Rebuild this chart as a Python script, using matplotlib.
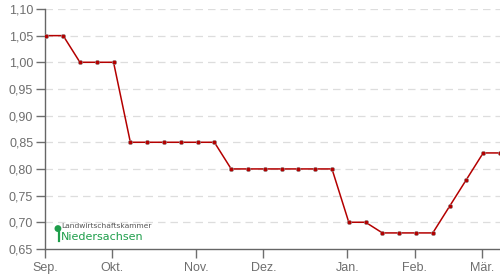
#!/usr/bin/env python3
import matplotlib
matplotlib.use("Agg")
import matplotlib.pyplot as plt
from matplotlib.lines import Line2D
from matplotlib.ticker import FuncFormatter

# weekly prices (EUR), Sep. to Mär.
prices = [1.05, 1.05, 1.00, 1.00, 1.00,
          0.85, 0.85, 0.85, 0.85, 0.85, 0.85,
          0.80, 0.80, 0.80, 0.80, 0.80, 0.80, 0.80,
          0.70, 0.70, 0.68, 0.68, 0.68, 0.68,
          0.73, 0.78, 0.83, 0.83]
month_labels = ["Sep.", "Okt.", "Nov.", "Dez.", "Jan.", "Feb.", "Mär."]
month_week = [0, 4, 9, 13, 18, 22, 26]
y_ticks = [0.65, 0.70, 0.75, 0.80, 0.85, 0.90, 0.95, 1.00, 1.05, 1.10]

plt.rcParams["font.family"] = ["Liberation Sans", "DejaVu Sans"]

fig = plt.figure(figsize=(5, 2.8), dpi=100)
ax = fig.add_axes([0.09, 0.111, 0.91, 0.857])

x = list(range(len(prices)))
ax.plot(x, prices, color="#b40000", linewidth=1.1, zorder=3)
ax.plot(x, prices, linestyle="none", marker="o", markersize=3.2,
        markerfacecolor="#b40000", markeredgecolor="#999999",
        markeredgewidth=0.4, zorder=4)

ax.set_xlim(0, len(prices) - 1)
ax.set_ylim(0.65, 1.10)
ax.set_yticks(y_ticks)
ax.yaxis.set_major_formatter(FuncFormatter(lambda v, p: f"{v:.2f}".replace(".", ",")))
ax.set_xticks([m - 0.08 for m in month_week])
ax.set_xticklabels(month_labels)

for v in y_ticks[1:]:
    ax.axhline(v, color="#dddddd", linewidth=0.9, linestyle=(0, (6, 4)), zorder=1)

for side in ("top", "right"):
    ax.spines[side].set_visible(False)
for side in ("left", "bottom"):
    ax.spines[side].set_color("#666666")
    ax.spines[side].set_linewidth(1.0)

ax.tick_params(axis="both", colors="#6e6e6e", labelsize=9, length=6.5, width=1.0)
ax.tick_params(axis="y", pad=2)
ax.tick_params(axis="x", pad=3)

# logo
green = "#1f9e4b"
fig.text(57 / 500, 1 - 229 / 280, "\u25cf", color=green, fontsize=6.5,
         ha="center", va="center", family="DejaVu Sans")
fig.add_artist(Line2D([59 / 500, 59 / 500], [1 - 232 / 280, 1 - 241 / 280],
                      transform=fig.transFigure, color=green, linewidth=1.6))
fig.text(61 / 500, 1 - 226.5 / 280, "Landwirtschaftskammer", color="#555555",
         fontsize=5.4, ha="left", va="center", family="DejaVu Sans")
fig.text(61 / 500, 1 - 236.5 / 280, "Niedersachsen", color=green,
         fontsize=8, ha="left", va="center", family="DejaVu Sans")

fig.savefig("out.png", dpi=100)
